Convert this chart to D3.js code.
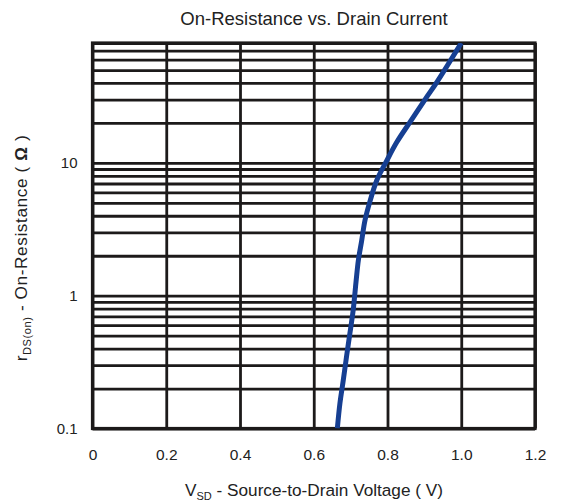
<!DOCTYPE html>
<html>
<head>
<meta charset="utf-8">
<script src="https://cdn.jsdelivr.net/npm/d3@7/dist/d3.min.js"></script>
<style>
  html, body { margin: 0; padding: 0; background: #fff; }
  svg { display: block; font-family: "Liberation Sans", Arial, sans-serif; }
</style>
</head>
<body>
<svg id="chart" width="561" height="503"></svg>
<script>
// Source-to-drain voltage (V) along the curve
const vsd = [0.664, 0.671, 0.680, 0.689, 0.698, 0.707, 0.715, 0.721, 0.730, 0.739,
             0.753, 0.771, 0.798, 0.825, 0.861, 0.903, 0.934, 1.0];
// On-resistance (ohm) at each voltage
const rds = [0.10, 0.155, 0.23, 0.35, 0.52, 0.78, 1.3, 1.85, 2.6, 3.7,
             5.2, 7.4, 10.4, 14.3, 20.3, 30.4, 40.6, 80];

const xTicks = [0, 0.2, 0.4, 0.6, 0.8, 1.0, 1.2];
const xTickLabels = ["0", "0.2", "0.4", "0.6", "0.8", "1.0", "1.2"];
const yTicks = [0.1, 1, 10];
const yTickLabels = ["0.1", "1", "10"];
const yGrid = [0.1, 0.2, 0.3, 0.4, 0.5, 0.6, 0.7, 0.8, 0.9,
               1, 2, 3, 4, 5, 6, 7, 8, 9,
               10, 20, 30, 40, 50, 60, 70, 80];

const svg = d3.select("#chart");
const plotL = 92.5, plotR = 535, plotT = 43, plotB = 428.5;

const x = d3.scaleLinear().domain([0, 1.2]).range([plotL, plotR]);
const y = d3.scaleLog().domain([0.1, 80]).range([plotB, plotT]);

const ink = "#1c1a1a";

// Title
svg.append("text")
  .attr("x", 314).attr("y", 25)
  .attr("text-anchor", "middle")
  .attr("font-size", 18.5)
  .attr("fill", "#222")
  .text("On-Resistance vs. Drain Current");

// Horizontal grid (log decades with minor lines)
const gy = svg.append("g")
  .attr("transform", `translate(${plotL},0)`)
  .call(d3.axisLeft(y).tickValues(yGrid).tickSize(-(plotR - plotL)).tickFormat(""));
gy.select(".domain").remove();
gy.selectAll(".tick line").attr("stroke", ink).attr("stroke-width", 2.8);

// Vertical grid
const gx = svg.append("g")
  .attr("transform", `translate(0,${plotB})`)
  .call(d3.axisBottom(x).tickValues(xTicks).tickSize(-(plotB - plotT)).tickFormat(""));
gx.select(".domain").remove();
gx.selectAll(".tick line").attr("stroke", ink).attr("stroke-width", 2.8);

// Frame
svg.append("rect")
  .attr("x", plotL).attr("y", plotT)
  .attr("width", plotR - plotL).attr("height", plotB - plotT)
  .attr("fill", "none").attr("stroke", ink).attr("stroke-width", 3.2);

// X tick labels
const xl = svg.append("g")
  .attr("transform", `translate(0,${plotB + 20})`)
  .call(d3.axisBottom(x).tickValues(xTicks).tickSize(0).tickPadding(0)
        .tickFormat((d, i) => xTickLabels[i]));
xl.select(".domain").remove();
xl.selectAll("text").attr("font-size", 15.5).attr("fill", "#222")
  .attr("font-family", "Liberation Sans, Arial, sans-serif");

// Y tick labels
const yl = svg.append("g")
  .attr("transform", `translate(${plotL - 15},0)`)
  .call(d3.axisLeft(y).tickValues(yTicks).tickSize(0).tickPadding(0)
        .tickFormat((d, i) => yTickLabels[i]));
yl.select(".domain").remove();
yl.selectAll("text").attr("font-size", 15).attr("fill", "#222")
  .attr("font-family", "Liberation Sans, Arial, sans-serif");

// Curve
const line = d3.line()
  .x((d, i) => x(vsd[i]))
  .y((d, i) => y(rds[i]))
  .curve(d3.curveCatmullRom);

svg.append("defs").append("clipPath").attr("id", "plotClip")
  .append("rect").attr("x", plotL).attr("y", plotT)
  .attr("width", plotR - plotL).attr("height", plotB - plotT);

svg.append("path")
  .datum(vsd)
  .attr("clip-path", "url(#plotClip)")
  .attr("d", line)
  .attr("fill", "none")
  .attr("stroke", "#163f92")
  .attr("stroke-width", 5)
  .attr("stroke-linecap", "butt");

// X axis title
const xt = svg.append("text")
  .attr("x", 314).attr("y", 496)
  .attr("text-anchor", "middle")
  .attr("font-size", 17.2)
  .attr("fill", "#222");
xt.append("tspan").text("V");
xt.append("tspan").attr("font-size", 11).attr("dy", 4).text("SD");
xt.append("tspan").attr("dy", -4).text(" - Source-to-Drain Voltage ( V)");

// Y axis title
const yt = svg.append("text")
  .attr("transform", "translate(27,248) rotate(-90)")
  .attr("text-anchor", "middle")
  .attr("font-size", 17.2)
  .attr("letter-spacing", 0.6)
  .attr("fill", "#222");
yt.append("tspan").text("r");
yt.append("tspan").attr("font-size", 11).attr("dy", 4).text("DS(on)");
yt.append("tspan").attr("dy", -4).text("  -  On-Resistance ( ");
yt.append("tspan").attr("font-weight", "bold").text("Ω");
yt.append("tspan").text(" )");
</script>
</body>
</html>
